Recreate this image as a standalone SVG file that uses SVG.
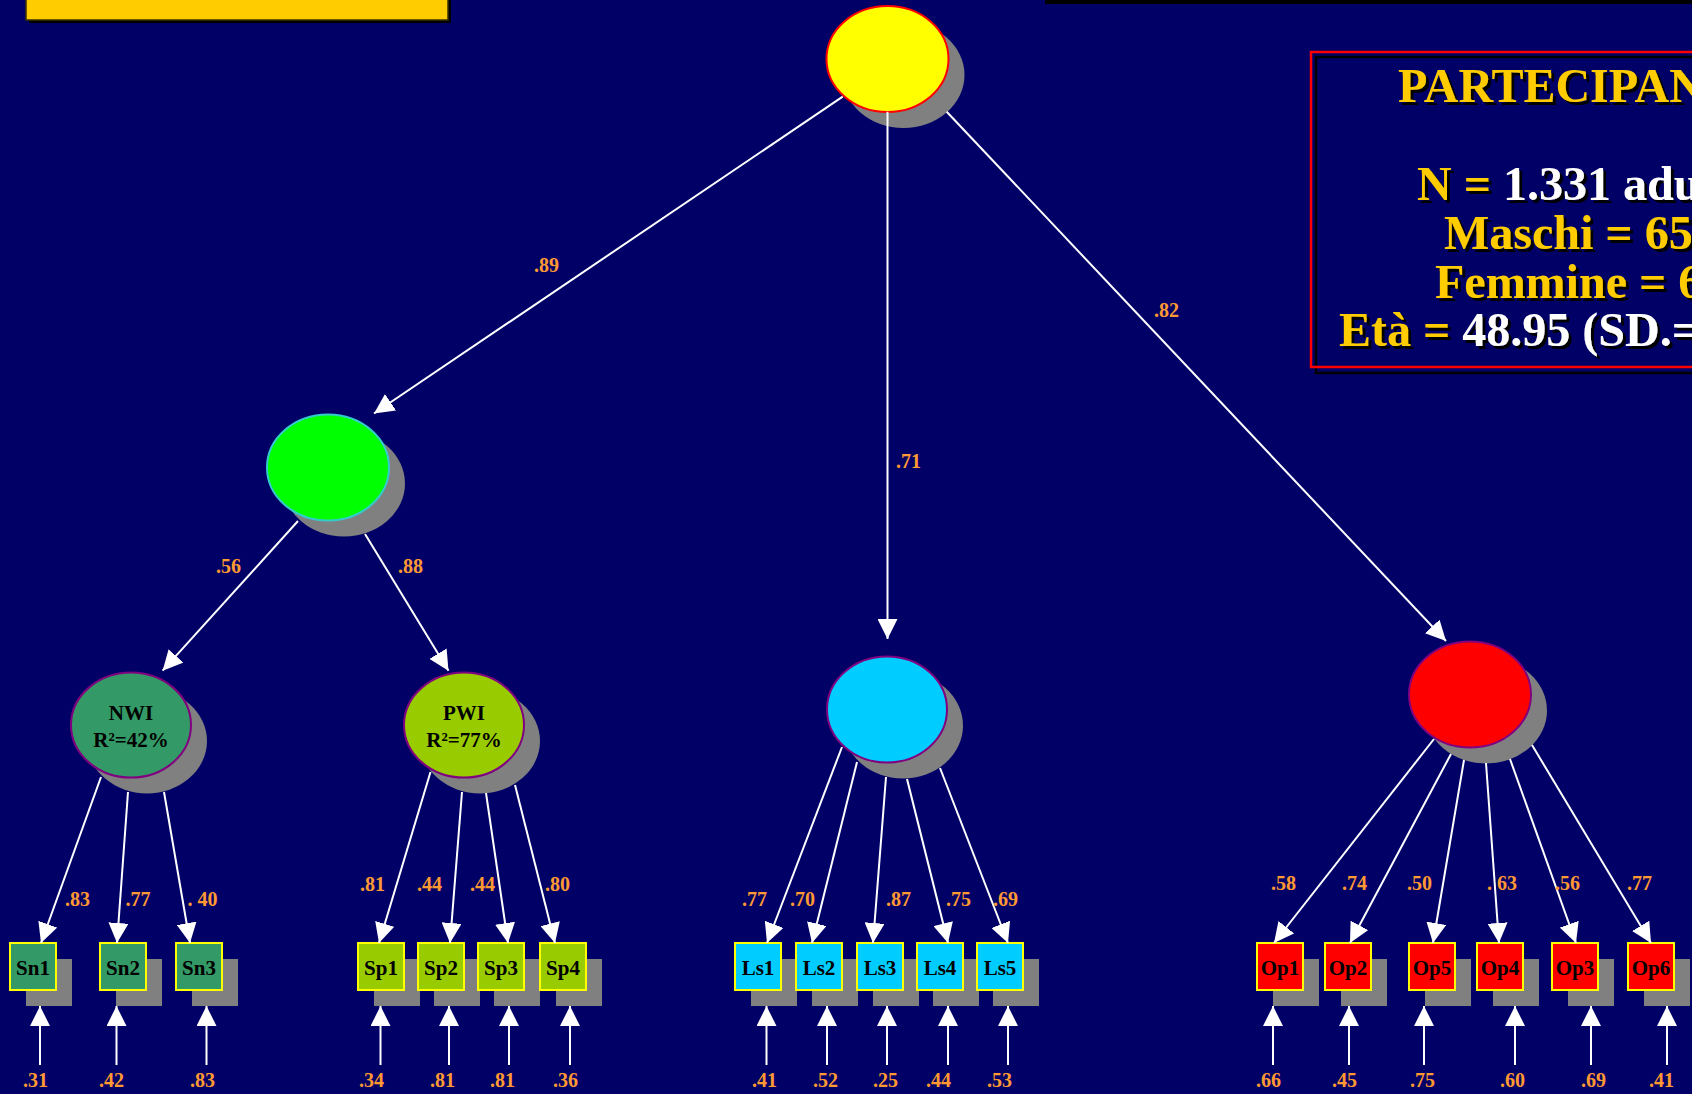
<svg xmlns="http://www.w3.org/2000/svg" width="1692" height="1094" viewBox="0 0 1692 1094">
<defs>
<marker id="ah" markerUnits="userSpaceOnUse" markerWidth="20" markerHeight="20" viewBox="0 0 20 20" refX="20" refY="10" orient="auto">
<path d="M0,0 L20,10 L0,20 z" fill="#ffffff"/>
</marker>
<filter id="tsh" x="-5%" y="-20%" width="110%" height="140%">
<feDropShadow dx="3" dy="3" stdDeviation="0" flood-color="#000000" flood-opacity="1"/>
</filter>
<style>
.conn line{stroke:#ffffff;stroke-width:2;marker-end:url(#ah)}
.lbl{font-family:"Liberation Serif","Times New Roman",serif;font-weight:bold;font-size:20px;fill:#ff9933}
.sh{fill:#808080}
.box{stroke:#ffff00;stroke-width:2}
.ntx{font-family:"Liberation Serif","Times New Roman",serif;font-weight:bold;font-size:21px;fill:#000000;text-anchor:middle}
.lat{stroke:#800080;stroke-width:2}
.info{font-family:"Liberation Serif","Times New Roman",serif;font-weight:bold;font-size:48px;filter:url(#tsh)}
.y{fill:#ffcc00}
.w{fill:#ffffff}
</style>
</defs>
<rect x="0" y="0" width="1692" height="1094" fill="#000066"/>

<!-- decorative top elements -->
<rect x="29" y="-5" width="422" height="28" fill="#000000"/>
<rect x="26" y="-5" width="422" height="25" fill="#ffcc00" stroke="#3a3000" stroke-width="1.5"/>
<rect x="1045" y="0" width="647" height="4" fill="#000000"/>

<!-- info box -->
<g id="info">
<rect x="1316" y="57" width="400" height="316" fill="none" stroke="#000000" stroke-width="2.5"/>
<rect x="1311" y="52" width="400" height="315" fill="none" stroke="#ff0000" stroke-width="2.5"/>
<g class="info">
<text x="1398" y="102" class="y">PARTECIPAN</text>
<text x="1417" y="200" class="y">N = <tspan class="w">1.331 adu</tspan></text>
<text x="1444" y="249" class="y">Maschi = 65</text>
<text x="1435" y="298" class="y">Femmine = 6</text>
<text x="1339" y="346" class="y">Età = <tspan class="w">48.95 (SD.=</tspan></text>
</g>
</g>

<!-- latent nodes -->
<g id="top">
<ellipse class="sh" cx="903.5" cy="75" rx="61" ry="53"/>
<ellipse cx="887.5" cy="59" rx="61" ry="53" fill="#ffff00" stroke="#ff0000" stroke-width="2"/>
</g>
<g id="green">
<ellipse class="sh" cx="344" cy="483.5" rx="61" ry="53"/>
<ellipse cx="328" cy="467.5" rx="61" ry="53" fill="#00ff00" stroke="#33cccc" stroke-width="2"/>
</g>
<g id="NWI">
<ellipse class="sh" cx="147" cy="741" rx="60" ry="52.5"/>
<ellipse class="lat" cx="131" cy="725" rx="60" ry="52.5" fill="#339966"/>
<text class="ntx" x="131" y="720">NWI</text>
<text class="ntx" x="131" y="747">R²=42%</text>
</g>
<g id="PWI">
<ellipse class="sh" cx="480" cy="741" rx="60" ry="52.5"/>
<ellipse class="lat" cx="464" cy="725" rx="60" ry="52.5" fill="#99cc00"/>
<text class="ntx" x="464" y="720">PWI</text>
<text class="ntx" x="464" y="747">R²=77%</text>
</g>
<g id="cyan">
<ellipse class="sh" cx="903" cy="725.5" rx="60" ry="53"/>
<ellipse class="lat" cx="887" cy="709.5" rx="60" ry="53" fill="#00ccff"/>
</g>
<g id="red">
<ellipse class="sh" cx="1486" cy="710.5" rx="61" ry="53"/>
<ellipse class="lat" cx="1470" cy="694.5" rx="61" ry="53" fill="#ff0000"/>
</g>

<!-- observed nodes -->
<g id="Sn1"><rect class="sh" x="26" y="959" width="46" height="47"/><rect class="box" x="10" y="943" width="46" height="47" fill="#339966"/><text class="ntx" x="33" y="975">Sn1</text></g>
<g id="Sn2"><rect class="sh" x="116" y="959" width="46" height="47"/><rect class="box" x="100" y="943" width="46" height="47" fill="#339966"/><text class="ntx" x="123" y="975">Sn2</text></g>
<g id="Sn3"><rect class="sh" x="192" y="959" width="46" height="47"/><rect class="box" x="176" y="943" width="46" height="47" fill="#339966"/><text class="ntx" x="199" y="975">Sn3</text></g>
<g id="Sp1"><rect class="sh" x="374" y="959" width="46" height="47"/><rect class="box" x="358" y="943" width="46" height="47" fill="#99cc00"/><text class="ntx" x="381" y="975">Sp1</text></g>
<g id="Sp2"><rect class="sh" x="434" y="959" width="46" height="47"/><rect class="box" x="418" y="943" width="46" height="47" fill="#99cc00"/><text class="ntx" x="441" y="975">Sp2</text></g>
<g id="Sp3"><rect class="sh" x="494" y="959" width="46" height="47"/><rect class="box" x="478" y="943" width="46" height="47" fill="#99cc00"/><text class="ntx" x="501" y="975">Sp3</text></g>
<g id="Sp4"><rect class="sh" x="556" y="959" width="46" height="47"/><rect class="box" x="540" y="943" width="46" height="47" fill="#99cc00"/><text class="ntx" x="563" y="975">Sp4</text></g>
<g id="Ls1"><rect class="sh" x="751" y="959" width="46" height="47"/><rect class="box" x="735" y="943" width="46" height="47" fill="#00ccff"/><text class="ntx" x="758" y="975">Ls1</text></g>
<g id="Ls2"><rect class="sh" x="812" y="959" width="46" height="47"/><rect class="box" x="796" y="943" width="46" height="47" fill="#00ccff"/><text class="ntx" x="819" y="975">Ls2</text></g>
<g id="Ls3"><rect class="sh" x="873" y="959" width="46" height="47"/><rect class="box" x="857" y="943" width="46" height="47" fill="#00ccff"/><text class="ntx" x="880" y="975">Ls3</text></g>
<g id="Ls4"><rect class="sh" x="933" y="959" width="46" height="47"/><rect class="box" x="917" y="943" width="46" height="47" fill="#00ccff"/><text class="ntx" x="940" y="975">Ls4</text></g>
<g id="Ls5"><rect class="sh" x="993" y="959" width="46" height="47"/><rect class="box" x="977" y="943" width="46" height="47" fill="#00ccff"/><text class="ntx" x="1000" y="975">Ls5</text></g>
<g id="Op1"><rect class="sh" x="1273" y="959" width="46" height="47"/><rect class="box" x="1257" y="943" width="46" height="47" fill="#ff0000"/><text class="ntx" x="1280" y="975">Op1</text></g>
<g id="Op2"><rect class="sh" x="1341" y="959" width="46" height="47"/><rect class="box" x="1325" y="943" width="46" height="47" fill="#ff0000"/><text class="ntx" x="1348" y="975">Op2</text></g>
<g id="Op5"><rect class="sh" x="1425" y="959" width="46" height="47"/><rect class="box" x="1409" y="943" width="46" height="47" fill="#ff0000"/><text class="ntx" x="1432" y="975">Op5</text></g>
<g id="Op4"><rect class="sh" x="1493" y="959" width="46" height="47"/><rect class="box" x="1477" y="943" width="46" height="47" fill="#ff0000"/><text class="ntx" x="1500" y="975">Op4</text></g>
<g id="Op3"><rect class="sh" x="1568" y="959" width="46" height="47"/><rect class="box" x="1552" y="943" width="46" height="47" fill="#ff0000"/><text class="ntx" x="1575" y="975">Op3</text></g>
<g id="Op6"><rect class="sh" x="1644" y="959" width="46" height="47"/><rect class="box" x="1628" y="943" width="46" height="47" fill="#ff0000"/><text class="ntx" x="1651" y="975">Op6</text></g>

<!-- connectors -->
<g id="connectors" class="conn">
<line x1="842.7" y1="96.7" x2="374" y2="413.5"/>
<line x1="887.5" y1="111.7" x2="887.5" y2="639"/>
<line x1="946.7" y1="111.7" x2="1446" y2="641"/>
<line x1="298" y1="521" x2="162.6" y2="670.7"/>
<line x1="365" y1="534" x2="448.5" y2="670.7"/>
<line x1="101" y1="777" x2="41" y2="943"/>
<line x1="128" y1="792" x2="117" y2="943"/>
<line x1="164" y1="792" x2="190" y2="943"/>
<line x1="430.5" y1="772" x2="379" y2="943"/>
<line x1="462" y1="792" x2="450" y2="943"/>
<line x1="486" y1="793" x2="508" y2="943"/>
<line x1="515" y1="785" x2="555" y2="943"/>
<line x1="842" y1="747" x2="767" y2="943"/>
<line x1="857" y1="762" x2="812" y2="943"/>
<line x1="886" y1="777" x2="873" y2="943"/>
<line x1="907" y1="779" x2="948" y2="943"/>
<line x1="940" y1="768" x2="1008" y2="943"/>
<line x1="1434" y1="739" x2="1274" y2="943"/>
<line x1="1451" y1="754" x2="1350" y2="943"/>
<line x1="1464" y1="760" x2="1433" y2="943"/>
<line x1="1486" y1="763" x2="1499" y2="943"/>
<line x1="1510" y1="759" x2="1576" y2="943"/>
<line x1="1532" y1="745" x2="1651" y2="943"/>
<!-- error terms -->
<line x1="40" y1="1065" x2="40" y2="1006"/>
<line x1="116.5" y1="1065" x2="116.5" y2="1006"/>
<line x1="206.5" y1="1065" x2="206.5" y2="1006"/>
<line x1="380.5" y1="1065" x2="380.5" y2="1006"/>
<line x1="449" y1="1065" x2="449" y2="1006"/>
<line x1="509" y1="1065" x2="509" y2="1006"/>
<line x1="570" y1="1065" x2="570" y2="1006"/>
<line x1="766.5" y1="1065" x2="766.5" y2="1006"/>
<line x1="827" y1="1065" x2="827" y2="1006"/>
<line x1="887" y1="1065" x2="887" y2="1006"/>
<line x1="948" y1="1065" x2="948" y2="1006"/>
<line x1="1008" y1="1065" x2="1008" y2="1006"/>
<line x1="1273" y1="1065" x2="1273" y2="1006"/>
<line x1="1349" y1="1065" x2="1349" y2="1006"/>
<line x1="1424" y1="1065" x2="1424" y2="1006"/>
<line x1="1515" y1="1065" x2="1515" y2="1006"/>
<line x1="1591" y1="1065" x2="1591" y2="1006"/>
<line x1="1667" y1="1065" x2="1667" y2="1006"/>
</g>

<!-- path labels -->
<g id="labels" class="lbl">
<text x="534" y="272">.89</text>
<text x="896" y="468">.71</text>
<text x="1154" y="317">.82</text>
<text x="216" y="573">.56</text>
<text x="398" y="573">.88</text>
<text x="65" y="906">.83</text>
<text x="125.5" y="906">.77</text>
<text x="187.5" y="906">. 40</text>
<text x="360" y="891">.81</text>
<text x="417" y="891">.44</text>
<text x="470" y="891">.44</text>
<text x="545" y="891">.80</text>
<text x="742" y="906">.77</text>
<text x="790" y="906">.70</text>
<text x="886" y="906">.87</text>
<text x="946" y="906">.75</text>
<text x="993" y="906">.69</text>
<text x="1271" y="890">.58</text>
<text x="1342" y="890">.74</text>
<text x="1407" y="890">.50</text>
<text x="1487" y="890">. 63</text>
<text x="1555" y="890">.56</text>
<text x="1627" y="890">.77</text>
<text x="23" y="1087">.31</text>
<text x="99" y="1087">.42</text>
<text x="190" y="1087">.83</text>
<text x="359" y="1087">.34</text>
<text x="430" y="1087">.81</text>
<text x="490" y="1087">.81</text>
<text x="553" y="1087">.36</text>
<text x="752" y="1087">.41</text>
<text x="813" y="1087">.52</text>
<text x="873" y="1087">.25</text>
<text x="926" y="1087">.44</text>
<text x="987" y="1087">.53</text>
<text x="1256" y="1087">.66</text>
<text x="1332" y="1087">.45</text>
<text x="1410" y="1087">.75</text>
<text x="1500" y="1087">.60</text>
<text x="1581" y="1087">.69</text>
<text x="1649" y="1087">.41</text>
</g>
</svg>
